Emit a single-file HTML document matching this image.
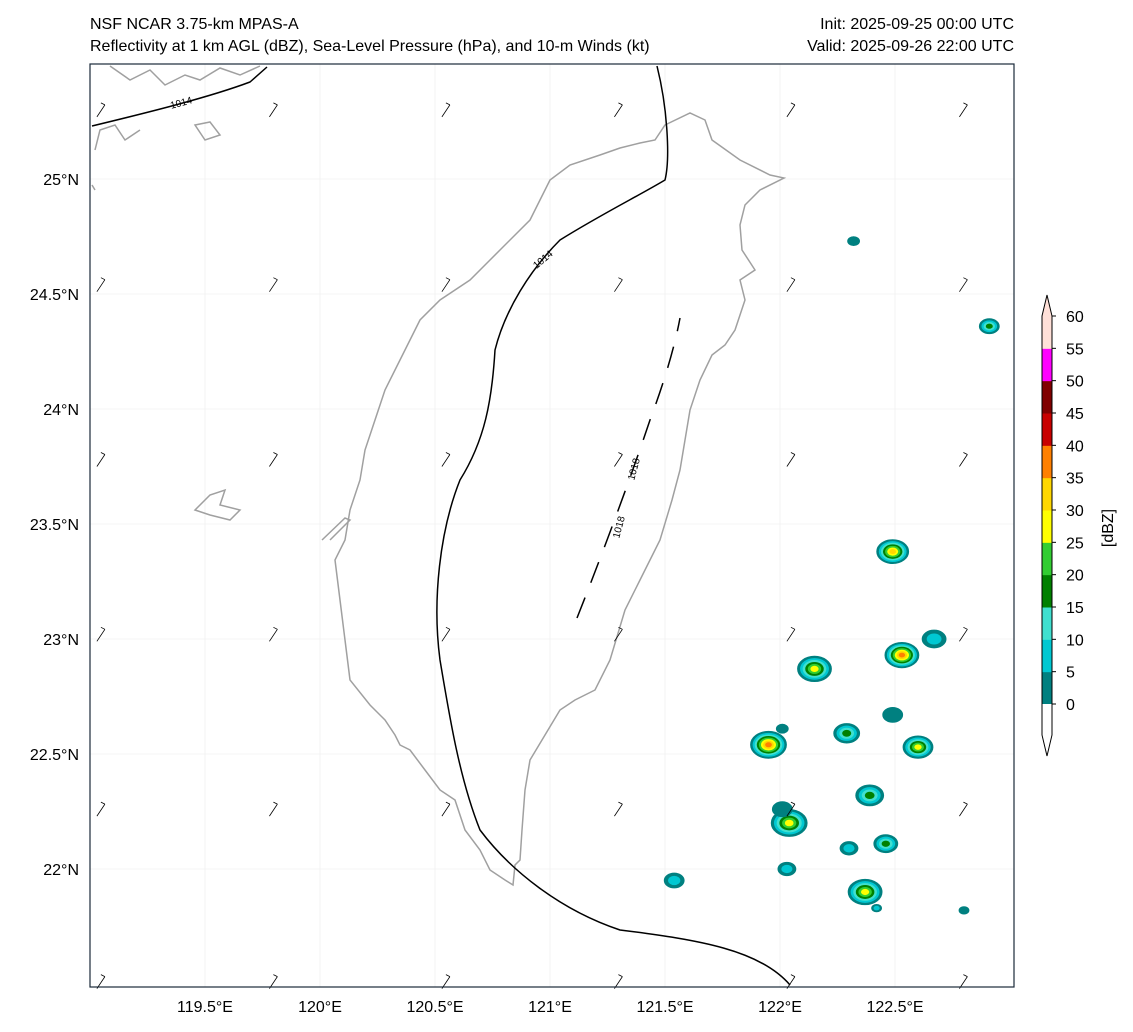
<!DOCTYPE html>
<html><head><meta charset="utf-8"><style>
html,body{margin:0;padding:0;background:#fff;}
svg{display:block;font-family:"Liberation Sans",sans-serif;}
</style></head><body>
<svg id="chart" width="1133" height="1032" viewBox="0 0 1133 1032">
<text x="90" y="29" font-size="16">NSF NCAR 3.75-km MPAS-A</text>
<text x="90" y="51" font-size="16">Reflectivity at 1 km AGL (dBZ), Sea-Level Pressure (hPa), and 10-m Winds (kt)</text>
<text x="1014" y="29" font-size="16" text-anchor="end">Init: 2025-09-25 00:00 UTC</text>
<text x="1014" y="51" font-size="16" text-anchor="end">Valid: 2025-09-26 22:00 UTC</text>
<g id="grid"></g>
<path fill="none" stroke="#a0a0a0" stroke-width="1.5" d="M665,125 L690,113 705,120 712,140 740,160 770,175 784,178 760,190 745,205 740,225 742,250 755,270 740,280 745,300 735,330 725,345 712,355 700,380 690,410 685,440 680,470 672,500 660,540 640,580 625,610 610,660 595,690 575,700 560,710 545,735 530,760 525,790 522,830 520,860 515,865 513,885 505,880 490,870 480,850 465,830 455,800 440,790 425,770 410,750 400,745 395,735 385,720 370,705 350,680 345,640 340,600 335,560 345,540 350,510 360,480 365,450 375,420 385,390 395,370 410,340 420,320 440,300 470,280 490,260 500,250 530,220 540,200 550,180 570,165 600,155 620,148 640,143 655,140 Z"/>
<path fill="none" stroke="#a0a0a0" stroke-width="1.5" d="M110,66 L130,80 150,70 165,85 185,75 200,80 220,68 240,75 260,66 M95,150 L100,130 115,125 125,140 140,130 M195,125 L210,122 220,135 205,140 Z M195,510 L210,495 225,490 220,505 240,510 230,520 210,515 Z M322,540 L345,518 350,520 330,540 M95,190 L92,185"/>
<path fill="none" stroke="#000" stroke-width="1.5" d="M657,66 C668,110 670,160 665,180 C640,195 600,215 560,240 C530,270 505,310 495,350 C492,400 485,440 460,480 C440,530 432,600 440,660 C450,720 460,780 480,830 C510,870 560,910 620,930 C700,940 760,950 790,985"/>
<path fill="none" stroke="#000" stroke-width="1.5" d="M92,126 C150,112 210,97 250,82 L267,67"/>
<path fill="none" stroke="#000" stroke-width="1.5" stroke-dasharray="22,16" d="M577,618 C600,560 630,480 650,420 C665,380 675,345 680,318"/>
<text x="182" y="106" font-size="10" transform="rotate(-15 182 106)" text-anchor="middle">1014</text>
<text x="545" y="262" font-size="10" transform="rotate(-40 545 262)" text-anchor="middle">1014</text>
<text x="637" y="470" font-size="10" transform="rotate(-75 637 470)" text-anchor="middle">1018</text>
<text x="622" y="528" font-size="10" transform="rotate(-75 622 528)" text-anchor="middle">1018</text>
<g id="echoes"></g>
<g id="barbs"></g>
<rect x="90" y="64" width="924" height="923" fill="none" stroke="#1a2a3a" stroke-width="1.2"/>
<g id="ticks"></g>
<g id="cbar"></g>
<text x="1113" y="528" font-size="16" transform="rotate(-90 1113 528)" text-anchor="middle">[dBZ]</text>
</svg>
<script>
const lonTicks=[119.5,120,120.5,121,121.5,122,122.5];
const latTicks=[22,22.5,23,23.5,24,24.5,25];
const cbLevels=[0,5,10,15,20,25,30,35,40,45,50,55,60];
const cbColors=["#008080","#00c8d2","#40e0d0","#008000","#32cd32","#ffff00","#ffd700","#ff8000","#c80000","#800000","#ff00ff","#ffe0d8"];
const cellLon=[122.32,122.91,122.49,122.15,122.53,122.67,121.95,122.29,122.49,122.60,122.39,122.04,122.46,122.30,122.03,121.54,122.37,122.80,122.42,122.01,122.01];
const cellLat=[24.73,24.36,23.38,22.87,22.93,23.00,22.54,22.59,22.67,22.53,22.32,22.20,22.11,22.09,22.00,21.95,21.90,21.82,21.83,22.61,22.26];
const cellPeak=[5,20,35,30,40,10,40,20,5,30,20,30,20,10,10,10,30,5,10,5,5];
const cellSize=[6,10,16,17,17,12,18,13,10,15,14,18,12,9,9,10,17,5,5,6,10];
const barbLon=[119.03,119.78,120.53,121.28,122.03,122.78];
const barbLat=[25.27,24.51,23.75,22.99,22.23,21.48];
const NS="http://www.w3.org/2000/svg";
const X=lon=>90+(lon-119)*230, Y=lat=>64+(25.5-lat)*230;
function el(t,a,p){const e=document.createElementNS(NS,t);for(const k in a)e.setAttribute(k,a[k]);p.appendChild(e);return e;}
const grid=document.getElementById('grid'),ticks=document.getElementById('ticks');
lonTicks.forEach(v=>{const x=X(v);
 const g=el('line',{x1:x,x2:x,y1:64,y2:987,stroke:'#f0f0f0','stroke-width':0.8},grid);
 
 const t=el('text',{x:x,y:1012,'font-size':16,'text-anchor':'middle'},ticks);t.textContent=v+'°E';
 });
latTicks.forEach(v=>{const y=Y(v);
 const g=el('line',{x1:90,x2:1014,y1:y,y2:y,stroke:'#f0f0f0','stroke-width':0.8},grid);
 
 const t=el('text',{x:79,y:y+6,'font-size':16,'text-anchor':'end'},ticks);t.textContent=v+'°N';
 });
const ech=document.getElementById('echoes');
cellLon.forEach((lon,i)=>{const cx=X(lon),cy=Y(cellLat[i]);const n=Math.max(1,Math.round(cellPeak[i]/5));const R=cellSize[i];
 for(let k=0;k<n;k++){const f=1-k/(n+0.6);
  const e=el('ellipse',{cx:cx,cy:cy,rx:R*f,ry:R*0.75*f,fill:cbColors[k],stroke:k==0?'#008080':'none','stroke-width':0.8},ech);
  }});
const barbs=document.getElementById('barbs');
barbLon.forEach(lo=>barbLat.forEach(la=>{const x=X(lo),y=Y(la);
 const b=el('path',{d:`M${x},${y} l8,-12 M${x+8},${y-12} l-4,-2`,stroke:'#000','stroke-width':0.8,fill:'none'},barbs);
 }));
const cb=document.getElementById('cbar');const cx0=1042,cw=10,y0=704,step=(704-316)/12;
cbColors.forEach((c,i)=>{const r=el('rect',{x:cx0,y:y0-(i+1)*step,width:cw,height:step+0.5,fill:c},cb);
 });
const up=el('path',{d:`M${cx0},316 L${cx0+cw/2},295 L${cx0+cw},316 Z`,fill:cbColors[11]},cb);

const dn=el('path',{d:`M${cx0},704 L${cx0},735 L${cx0+cw/2},756 L${cx0+cw},735 L${cx0+cw},704 Z`,fill:'#fff'},cb);

const o=el('path',{d:`M${cx0},316 L${cx0+cw/2},295 L${cx0+cw},316 L${cx0+cw},735 L${cx0+cw/2},756 L${cx0},735 Z`,fill:'none',stroke:'#000','stroke-width':1},cb);

cbLevels.forEach((v,i)=>{const y=y0-i*step;
 el('line',{x1:cx0+cw,x2:cx0+cw+4,y1:y,y2:y,stroke:'#000'},cb);
 const t=el('text',{x:1066,y:y+6,'font-size':16},cb);t.textContent=v;
 });
</script>
</body></html>
